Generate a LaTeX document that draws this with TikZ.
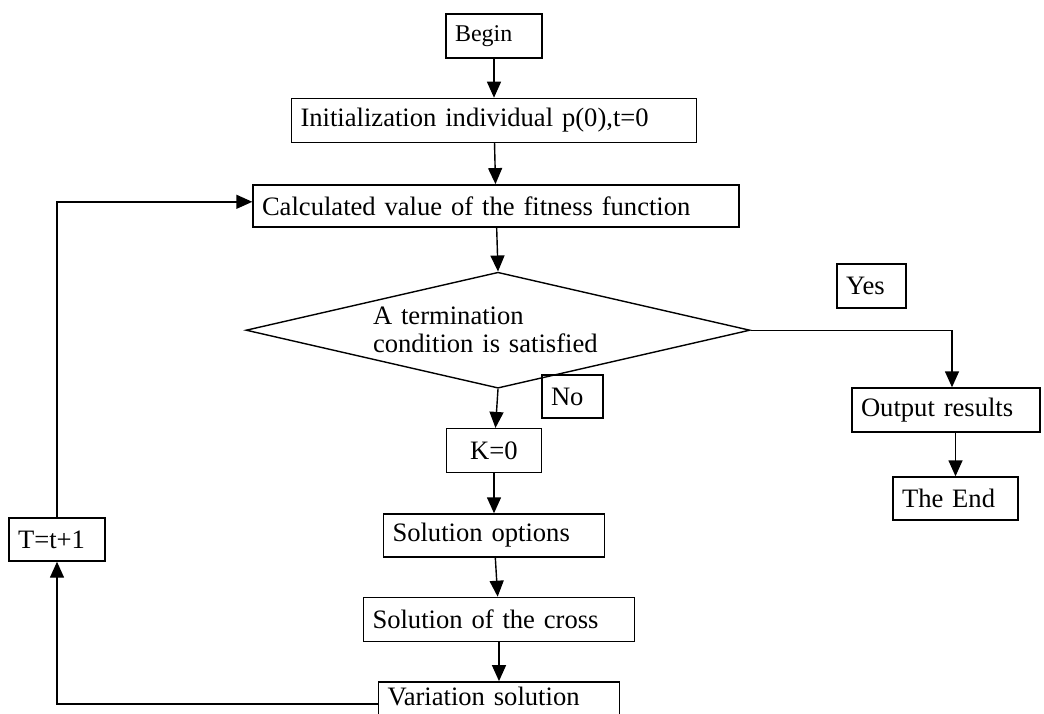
\documentclass[tikz,border=0pt]{standalone}
\usepackage{fontspec}
\setmainfont{Liberation Serif}
\usetikzlibrary{positioning, shapes.geometric, arrows.meta}

\begin{document}
\begin{tikzpicture}[x=1pt, y=-1pt, node distance=40pt, >={Triangle[length=16pt, width=14pt]}, line width=1.4pt,
    stepbox/.style={draw, rectangle, align=left, inner xsep=9pt, inner ysep=0pt, minimum height=44pt, font=\fontsize{26.6pt}{28pt}\selectfont},
    decision/.style={draw, diamond, aspect=4.3, inner sep=0pt, minimum width=504pt, minimum height=116pt, text width=250pt, align=left, font=\fontsize{26.6pt}{28pt}\selectfont}]
    \useasboundingbox (0,0) rectangle (1044,713);

    % Nodes for the main loop
    \node[stepbox, text width=78pt, font=\fontsize{24pt}{26pt}\selectfont] (begin) at (494,36) {Begin};
    \node[stepbox, text width=387pt, below=39pt of begin] (init) {Initialization individual p(0),t=0};
    \node[stepbox, text width=468pt, minimum height=42pt, below=41pt of init, xshift=2pt] (calc) {Calculated value of the fitness function};
    \node[decision, below=44pt of calc, xshift=2pt] (cond) {A termination\\ condition is satisfied};
    \node[stepbox, text width=77pt, align=center, below=39pt of cond, xshift=-4pt] (k0) {K=0};
    \node[stepbox, text width=203pt, minimum height=43pt, below=40pt of k0] (options) {Solution options};
    \node[stepbox, text width=253pt, below=39pt of options, xshift=5pt] (cross) {Solution of the cross};
    \node[stepbox, text width=223pt, text depth=16pt, below=39pt of cross] (variation) {Variation solution};

    % Nodes beside the loop
    \node[stepbox, text width=78pt, minimum height=43pt] (tbox) at (57,539.5) {T=t+1};
    \node[stepbox, text width=51pt] (yes) at (871.5,286) {Yes};
    \node[stepbox, text width=43pt, minimum height=43pt] (no) at (572.5,396.5) {No};
    \node[stepbox, text width=170pt] (output) at (946,410) {Output results};
    \node[stepbox, text width=107pt, minimum height=43pt] (end) at (955.5,498.5) {The End};

    % Arrows
    \draw[->] (begin) -- (init);
    \draw[->] (init) -- (calc);
    \draw[->] (calc) -- (cond.north);
    \draw[->] (cond.south) -- (k0);
    \draw[->] (k0) -- (options);
    \draw[->] (options) -- (cross);
    \draw[->] (cross) -- (variation);
    \draw[->] (variation.west) -| (tbox.south);
    \draw[->] (tbox.north) |- ([yshift=4pt]calc.west);
    \draw[->] (cond.east) -| ([xshift=6pt]output.north);
    \draw[->] (output.south -| end.north) -- (end.north);
\end{tikzpicture}
\end{document}
